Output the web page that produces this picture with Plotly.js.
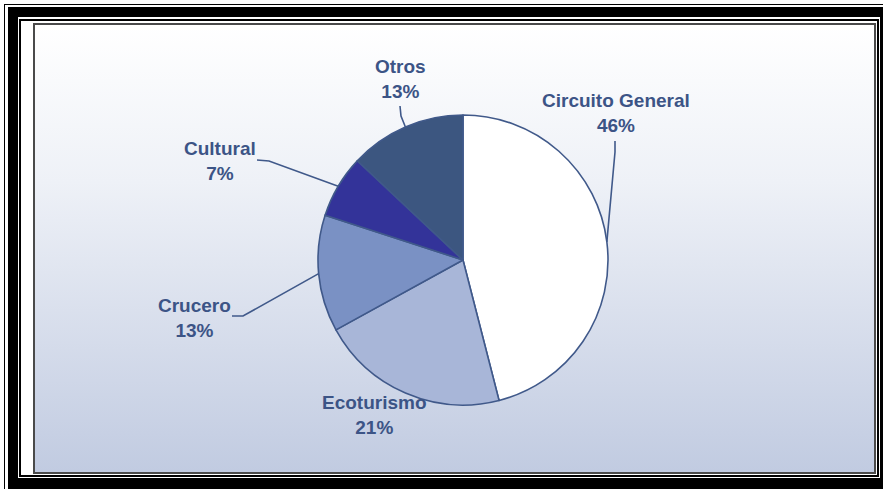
<!DOCTYPE html>
<html>
<head>
<meta charset="utf-8">
<script src="https://cdn.plot.ly/plotly-3.0.1.min.js"></script>
<style>
  html, body { margin: 0; padding: 0; background: #ffffff; width: 883px; height: 489px; overflow: hidden; }
  .abs { position: absolute; box-sizing: border-box; }
</style>
</head>
<body>
<!-- decorative frame -->
<div class="abs" style="left:4px; top:4px; width:879px; height:485px; border-top:1px solid #000; border-left:1px solid #000;"></div>
<div class="abs" style="left:8px; top:7px; width:875px; height:482px; background:#000;"></div>
<div class="abs" style="left:18px; top:17px; width:862px; height:461px; background:#fff;"></div>
<div class="abs" style="left:19px; top:19px; width:860px; height:458px; border:2px solid #000;"></div>
<div class="abs" style="left:21px; top:21px; width:856px; height:454px; background:#fff;"></div>
<div class="abs" style="left:33px; top:23px; width:843px; height:451px; border:2px solid #4a4a4a; background:linear-gradient(to bottom, #ffffff 0%, #eef1f7 35%, #c1cbe1 100%);"></div>
<div id="chart" class="abs" style="left:0; top:0; width:883px; height:489px;"></div>
<script>
// ---- data ----
const categories = ["Circuito General", "Ecoturismo", "Crucero", "Cultural", "Otros"];
const values = [46, 21, 13, 7, 13];
const sliceColors = ["#ffffff", "#a8b6d8", "#7a91c4", "#333399", "#3c5680"];

// ---- geometry (pixels) ----
const W = 883, H = 489;
const cx = 463, cy = 260, R = 145;
const px = x => x / W;
const py = y => 1 - y / H;

const labelColor = "#3c5486";
const lineColor = "#40598a";

// label block centres and leader elbow points (layout positions)
const labelPos = [
  {x: 616, y: 113, lead: [[615, 141], [615, 152]]},
  {x: 374, y: 415, lead: null},
  {x: 194, y: 318, lead: [[232, 316], [243, 316]]},
  {x: 220, y: 161, lead: [[257, 160], [269, 161]]},
  {x: 400, y: 79, lead: [[400, 106], [401, 116]]}
];

const total = values.reduce((a, b) => a + b, 0);
const annotations = [];
const shapes = [];
let cum = 0;
values.forEach((v, i) => {
  const mid = (cum + v / 2) / total * 2 * Math.PI;
  cum += v;
  const ex = cx + R * Math.sin(mid);
  const ey = cy - R * Math.cos(mid);
  const lp = labelPos[i];
  annotations.push({
    x: px(lp.x), y: py(lp.y), xref: "paper", yref: "paper",
    xanchor: "center", yanchor: "middle", showarrow: false,
    text: "<b>" + categories[i] + "<br>" + Math.round(v / total * 100) + "%</b>",
    font: {family: "Liberation Sans, Arial, sans-serif", size: 19, color: labelColor},
    align: "center"
  });
  if (lp.lead) {
    const pts = lp.lead.concat([[ex, ey]]);
    let path = "M " + px(pts[0][0]) + "," + py(pts[0][1]);
    for (let k = 1; k < pts.length; k++) path += " L " + px(pts[k][0]) + "," + py(pts[k][1]);
    shapes.push({type: "path", xref: "paper", yref: "paper", path: path,
      line: {color: lineColor, width: 1.6}});
  }
});

const trace = {
  type: "pie",
  labels: categories,
  values: values,
  sort: false,
  direction: "clockwise",
  rotation: 0,
  textinfo: "none",
  hoverinfo: "none",
  marker: {colors: sliceColors, line: {color: lineColor, width: 1.6}},
  domain: {x: [px(cx - R), px(cx + R)], y: [py(cy + R), py(cy - R)]},
  showlegend: false
};

const layout = {
  width: W, height: H,
  margin: {l: 0, r: 0, t: 0, b: 0},
  paper_bgcolor: "rgba(0,0,0,0)",
  plot_bgcolor: "rgba(0,0,0,0)",
  showlegend: false,
  annotations: annotations,
  shapes: shapes
};

Plotly.newPlot("chart", [trace], layout, {staticPlot: true, displayModeBar: false});
</script>
</body>
</html>
